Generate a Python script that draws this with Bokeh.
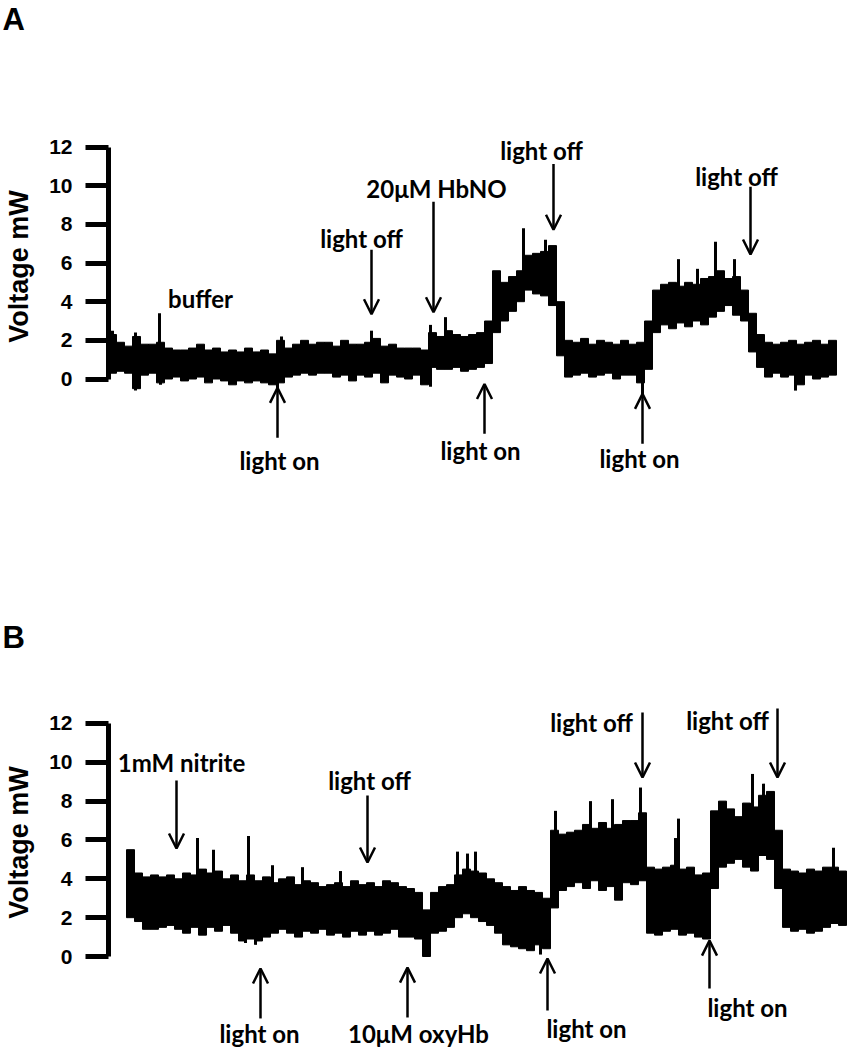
import numpy as np
from bokeh.plotting import figure
from bokeh.models import Range1d, FixedTicker, Label, Arrow, OpenHead
from bokeh.layouts import column
from bokeh.embed import file_html
from bokeh.resources import INLINE

# ---------------- data (time in s, voltage in mW) ----------------
STEP = 8
A_T0 = 4
a_hi = [2.3, 1.9, 1.7, 2.2, 1.8, 1.8, 1.9, 1.6, 1.5, 1.5, 1.6, 1.8, 1.5, 1.6, 1.4, 1.5,
        1.4, 1.6, 1.4, 1.5, 1.3, 2.0, 1.6, 1.8, 2.0, 1.8, 1.9, 1.9, 1.7, 2.0, 1.8, 1.8,
        1.9, 2.1, 1.7, 1.8, 1.6, 1.6, 1.6, 1.5, 2.4, 2.2, 2.5, 2.3, 2.2, 2.3, 2.4, 3.0,
        5.6, 5.0, 5.3, 5.6, 6.4, 6.5, 6.6, 6.9, 4.0, 2.0, 1.9, 2.1, 1.8, 2.0, 1.9, 1.8,
        2.0, 1.8, 1.9, 3.0, 4.6, 4.9, 5.0, 4.8, 5.0, 4.9, 5.2, 5.3, 5.6, 5.2, 5.3, 4.6,
        3.4, 2.3, 1.9, 1.8, 1.9, 2.0, 1.8, 1.9, 2.0, 1.8, 2.0]
a_lo = [0.3, 0.4, 0.3, -0.5, 0.2, 0.3, -0.2, 0.0, 0.1, -0.1, 0.0, 0.1, -0.2, 0.0, -0.1, -0.3,
        -0.1, -0.2, -0.1, -0.2, -0.3, -0.2, 0.1, 0.2, 0.3, 0.2, 0.3, 0.3, 0.1, 0.2, -0.1, 0.2,
        0.1, 0.3, -0.2, 0.2, 0.1, 0.0, 0.2, -0.3, 0.6, 0.5, 0.5, 0.6, 0.4, 0.5, 0.6, 0.8,
        2.4, 3.0, 3.5, 4.0, 4.6, 4.4, 4.3, 3.8, 1.2, 0.1, 0.2, 0.3, 0.1, 0.2, 0.3, 0.0,
        0.2, 0.2, -0.2, 0.5, 2.4, 2.8, 2.6, 2.9, 2.7, 3.0, 2.8, 3.2, 3.5, 3.8, 3.3, 3.0,
        1.4, 0.6, 0.1, 0.3, 0.1, 0.2, -0.3, 0.2, 0.0, 0.1, 0.2]
a_spike_t = [4, 27, 51, 173, 263, 322, 337, 415, 437, 570, 589, 607, 626,
             27, 52, 169, 322, 534, 687]
a_spike_v = [2.5, 2.4, 3.4, 2.2, 2.5, 2.8, 3.2, 7.8, 7.2, 6.2, 5.7, 7.1, 6.2,
             -0.6, -0.3, -0.5, -0.4, -0.8, -0.6]

B_T0 = 22
b_hi = [5.5, 4.3, 4.1, 4.2, 4.1, 4.2, 4.0, 4.3, 4.2, 4.5, 4.3, 4.4, 4.0, 4.2, 3.9, 4.2,
        3.9, 4.1, 3.8, 4.0, 4.1, 3.7, 3.9, 3.8, 3.6, 3.7, 3.8, 3.6, 3.9, 3.7, 3.8, 3.6,
        3.9, 3.8, 3.6, 3.5, 3.3, 2.4, 3.3, 3.6, 3.7, 4.2, 4.5, 4.4, 4.3, 4.0, 3.8, 3.6,
        3.4, 3.6, 3.4, 3.3, 3.0, 6.5, 6.3, 6.4, 6.5, 6.8, 6.6, 6.9, 6.6, 6.8, 7.0, 7.0,
        7.4, 4.6, 4.5, 4.6, 4.7, 4.5, 4.6, 4.2, 4.3, 7.5, 8.0, 7.6, 7.2, 7.9, 7.7, 8.3,
        8.5, 6.5, 4.5, 4.4, 4.3, 4.5, 4.4, 4.6, 4.6, 4.4]
b_lo = [2.0, 1.8, 1.4, 1.4, 1.5, 1.6, 1.4, 1.2, 1.5, 1.1, 1.5, 1.3, 1.6, 1.2, 0.8, 0.9,
        0.8, 1.0, 1.2, 1.4, 1.2, 1.0, 1.3, 1.2, 1.4, 1.1, 1.2, 1.0, 1.3, 1.1, 1.3, 1.1,
        1.2, 1.4, 1.0, 1.0, 0.9, 0.0, 1.2, 1.3, 1.5, 2.0, 2.2, 2.0, 1.8, 1.6, 1.2, 0.6,
        0.5, 0.4, 0.3, 0.6, 0.4, 2.5, 3.4, 3.6, 3.8, 3.5, 3.9, 3.4, 3.6, 2.9, 3.8, 3.7,
        3.9, 1.2, 1.1, 1.3, 1.4, 1.1, 1.2, 1.0, 0.9, 3.5, 4.6, 4.8, 5.0, 4.6, 4.4, 5.2,
        5.0, 3.5, 1.5, 1.3, 1.4, 1.2, 1.3, 1.5, 1.7, 1.6]
b_spike_t = [89, 105, 140, 164, 194, 232, 349, 359, 367, 447, 482, 504, 532, 567, 570,
             644, 655, 725, 137, 147, 432]
b_spike_v = [6.1, 5.5, 6.2, 4.7, 4.6, 4.4, 5.4, 5.3, 5.4, 7.5, 8.0, 8.1, 8.7, 6.1, 7.1,
             9.4, 8.9, 5.6, 0.7, 0.6, 0.1]

y_ticks = [0, 2, 4, 6, 8, 10, 12]

A_notes = [  # text, label (t, v), arrow from (t, v) to (t, v)
    ("buffer", (92, 4.17), None),
    ("light off", (253, 7.26), ((263, 6.69), (263, 3.35))),
    ("20\u03bcM HbNO", (328, 9.84), ((325, 9.17), (325, 3.45))),
    ("light off", (433, 11.84), ((445, 11.12), (445, 7.72))),
    ("light off", (628, 10.45), ((642, 9.94), (642, 6.44))),
    ("light on", (171, -4.22), ((169, -3.04), (169, -0.46))),
    ("light on", (372, -3.71), ((376, -2.83), (376, -0.26))),
    ("light on", (531, -4.12), ((534, -3.35), (534, -0.77))),
]
B_notes = [
    ("1mM nitrite", (73, 9.99), ((68, 9.06), (68, 5.56))),
    ("light off", (261, 9.06), ((259, 8.29), (259, 4.84))),
    ("light on", (151, -3.95), ((152, -3.19), (152, -0.62))),
    ("10\u03bcM oxyHb", (310, -3.95), ((299, -3.14), (299, -0.57))),
    ("light on", (478, -3.71), ((439, -2.78), (439, -0.10))),
    ("light off", (483, 12.05), ((534, 12.56), (534, 9.22))),
    ("light off", (619, 12.15), ((669, 12.77), (669, 9.22))),
    ("light on", (639, -2.63), ((601, -1.65), (601, 0.82))),
]

FIG_W = 851
BORDER_L = 108
AXIS_FONT = "Liberation Sans"
NOTE_FONT = "Lato"


def make_panel(letter, t0, hi, lo, sp_t, sp_v, notes, height, top_border, yr, title_standoff):
    p = figure(width=FIG_W, height=height, output_backend="svg", toolbar_location=None,
               x_range=Range1d(0, FIG_W - BORDER_L), y_range=Range1d(*yr),
               x_axis_location=None, min_border_left=BORDER_L, min_border_right=0,
               min_border_top=top_border, min_border_bottom=0, title=letter)
    p.title.align = "left"
    p.title.offset = -BORDER_L + 2
    p.title.text_font = AXIS_FONT
    p.title.text_font_style = "bold"
    p.title.text_font_size = "31px"
    p.title.text_color = "black"
    try:
        p.title.standoff = title_standoff
    except Exception:
        p.title.standoff = 0
    p.outline_line_color = None
    p.xgrid.visible = False
    p.ygrid.visible = False
    ax = p.yaxis[0]
    ax.ticker = FixedTicker(ticks=y_ticks)
    ax.bounds = (0, 12)
    ax.axis_line_width = 5
    ax.major_tick_line_width = 5
    ax.major_tick_in = 0
    ax.major_tick_out = 23
    ax.minor_tick_line_color = None
    ax.major_label_standoff = 13
    ax.major_label_text_font = AXIS_FONT
    ax.major_label_text_font_style = "bold"
    ax.major_label_text_font_size = "21px"
    ax.major_label_text_color = "black"
    ax.axis_label = "Voltage mW"
    ax.axis_label_text_font = AXIS_FONT
    ax.axis_label_text_font_style = "bold"
    ax.axis_label_text_font_size = "27px"
    ax.axis_label_text_color = "black"
    ax.axis_label_standoff = 12

    t = t0 + STEP * np.arange(len(hi))
    hi_a = np.array(hi)
    lo_a = np.array(lo)
    p.vbar(x=t, width=STEP, top=hi_a, bottom=lo_a, fill_color="black",
           line_color="black", line_width=1)
    mid = np.interp(sp_t, t, (hi_a + lo_a) / 2)
    p.segment(x0=sp_t, y0=mid, x1=sp_t, y1=sp_v, line_color="black", line_width=3)

    for text, (lx, ly), arr in notes:
        p.add_layout(Label(x=lx, y=ly, text=text, text_align="center", text_baseline="middle",
                           text_font=NOTE_FONT, text_font_style="bold",
                           text_font_size="24px", text_color="black"))
        if arr is not None:
            (x0, y0), (x1, y1) = arr
            p.add_layout(Arrow(x_start=x0, y_start=y0, x_end=x1, y_end=y1,
                               line_width=2.5, line_color="black",
                               end=OpenHead(size=15, line_width=2.5, line_color="black")))
    return p


# panel A: frame spans page y 33..497 ; 0 mW at y=378, 19.42 px per mW
pA = make_panel("A", A_T0, a_hi, a_lo, a_spike_t, a_spike_v, A_notes, 497, 33,
                (-6.13, 17.77), -2)
# panel B: frame spans page y 634..1050 ; 0 mW at y=956
pB = make_panel("B", B_T0, b_hi, b_lo, b_spike_t, b_spike_v, B_notes, 553, 137,
                (-4.84, 16.58), -40)

layout = column(pA, pB, spacing=0)
open("out.html", "w").write(file_html(layout, INLINE))
